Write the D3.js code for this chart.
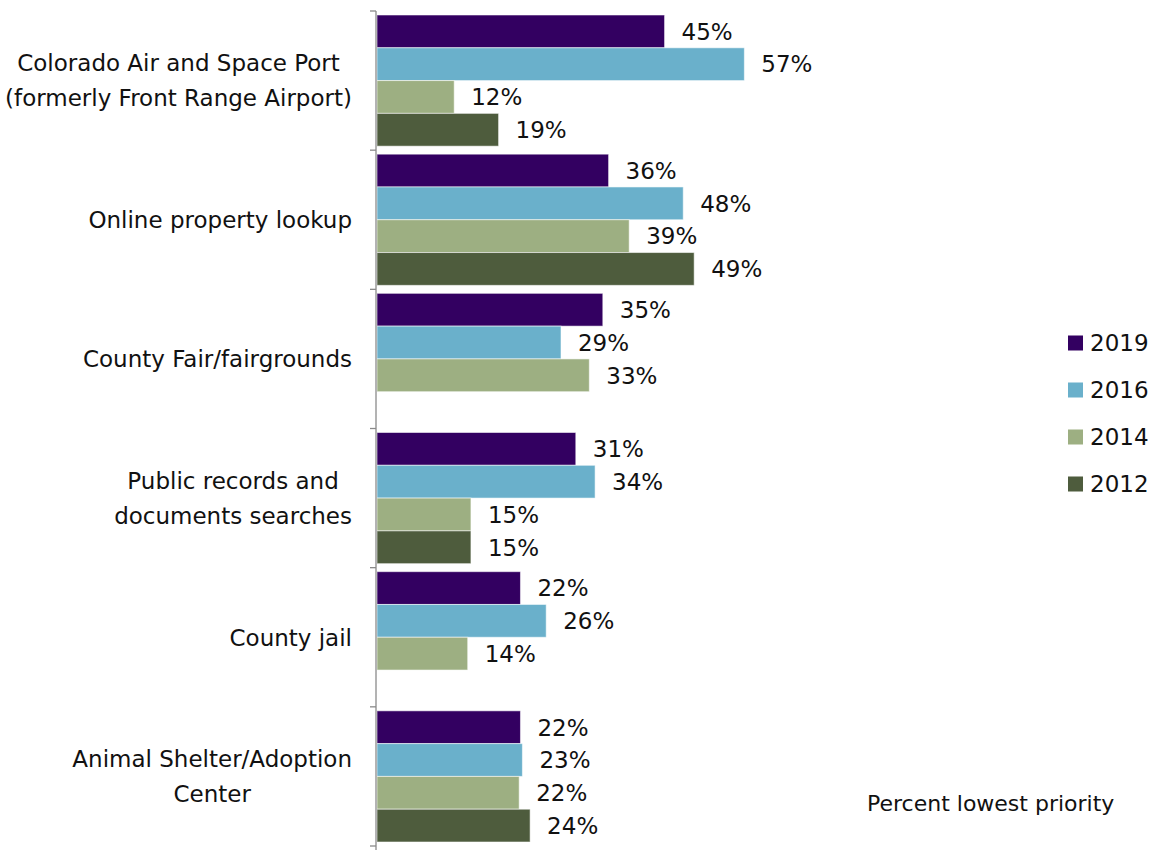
<!DOCTYPE html>
<html>
<head>
<meta charset="utf-8">
<script src="https://cdn.jsdelivr.net/npm/d3@7"></script>
<style>
  body { margin: 0; background: #fff; }
  text { font-family: "DejaVu Sans", sans-serif; fill: #111; }
</style>
</head>
<body>
<div id="vis"><svg></svg></div>
<script>
// categories, top to bottom (each line of a label is its own entry)
var categories = [
  ["Colorado Air and Space Port", "(formerly Front Range Airport)"],
  ["Online property lookup"],
  ["County Fair/fairgrounds"],
  ["Public records and", "documents searches"],
  ["County jail"],
  ["Animal Shelter/Adoption", "Center"]
];
var years = ["2019", "2016", "2014", "2012"];
var colors = ["#330061", "#6ab0cb", "#9daf82", "#4e5c3d"];

// percent lowest priority per year, same order as categories (null = not asked)
var v2019 = [44.7, 36.0, 35.1, 30.9, 22.3, 22.3];
var v2016 = [57.1, 47.6, 28.6, 33.9, 26.3, 22.6];
var v2014 = [12.0, 39.2, 33.0, 14.6, 14.1, 22.1];
var v2012 = [18.9, 49.3, null, 14.6, null, 23.8];
var series = [v2019, v2016, v2014, v2012];

var width = 1156, height = 850;
var fontSize = 23;

var svg = d3.select("#vis").select("svg")
  .attr("width", width)
  .attr("height", height);

var catKeys = categories.map(function (c) { return c.join(" "); });

var y = d3.scaleBand()
  .domain(catKeys)
  .range([11, 846])
  .padding(0);

var yInner = d3.scaleBand()
  .domain(years)
  .range([4, y.bandwidth() - 4])
  .padding(0);

var x = d3.scaleLinear()
  .domain([0, 60])
  .range([377, 763]);

// rows of data for bars
var rows = [];
catKeys.forEach(function (c, i) {
  years.forEach(function (yr, j) {
    var v = series[j][i];
    if (v != null) rows.push({ cat: c, year: yr, value: v, color: colors[j] });
  });
});

// bars
svg.append("g")
  .selectAll("rect")
  .data(rows)
  .join("rect")
  .attr("x", x(0))
  .attr("y", function (d) { return y(d.cat) + yInner(d.year); })
  .attr("width", function (d) { return x(d.value) - x(0); })
  .attr("height", yInner.bandwidth())
  .attr("fill", function (d) { return d.color; })
  .attr("stroke", "rgba(255,255,255,0.55)")
  .attr("stroke-width", 1);

// data labels
svg.append("g")
  .selectAll("text")
  .data(rows)
  .join("text")
  .attr("x", function (d) { return x(d.value) + 17; })
  .attr("y", function (d) { return y(d.cat) + yInner(d.year) + yInner.bandwidth() / 2; })
  .attr("dy", "0.36em")
  .style("font-size", fontSize + "px")
  .text(function (d) { return Math.round(d.value) + "%"; });

// vertical axis with ticks between categories
var axisX = 376;
var bounds = catKeys.map(function (c) { return y(c); }).concat([y.range()[1]]);
var axis = svg.append("g").attr("stroke", "#8a8a8a").attr("stroke-width", 1.3);
axis.append("line")
  .attr("x1", axisX).attr("x2", axisX)
  .attr("y1", bounds[0]).attr("y2", height);
axis.selectAll(".tick")
  .data(bounds)
  .join("line")
  .attr("class", "tick")
  .attr("x1", axisX - 6).attr("x2", axisX)
  .attr("y1", function (d) { return d; })
  .attr("y2", function (d) { return d; });

// category labels: block right aligned, lines centered within the block
var lineH = 35;
var labelRight = 352;
categories.forEach(function (lines, i) {
  var cy = y(catKeys[i]) + y.bandwidth() / 2;
  var g = svg.append("g");
  var texts = lines.map(function (ln, k) {
    return g.append("text")
      .attr("y", cy + (k - (lines.length - 1) / 2) * lineH)
      .attr("dy", "0.36em")
      .attr("text-anchor", "middle")
      .style("font-size", fontSize + "px")
      .text(ln);
  });
  var maxW = d3.max(texts, function (t) { return t.node().getComputedTextLength(); });
  texts.forEach(function (t) { t.attr("x", labelRight - maxW / 2); });
});

// legend
var legend = svg.append("g");
years.forEach(function (yr, j) {
  var ly = 343 + j * 47;
  legend.append("rect")
    .attr("x", 1068).attr("y", ly - 7.5)
    .attr("width", 15).attr("height", 15)
    .attr("fill", colors[j]);
  legend.append("text")
    .attr("x", 1090).attr("y", ly)
    .attr("dy", "0.36em")
    .style("font-size", fontSize + "px")
    .text(yr);
});

// axis title
svg.append("text")
  .attr("x", 867)
  .attr("y", 803)
  .attr("dy", "0.36em")
  .style("font-size", "22px")
  .text("Percent lowest priority");
</script>
</body>
</html>
